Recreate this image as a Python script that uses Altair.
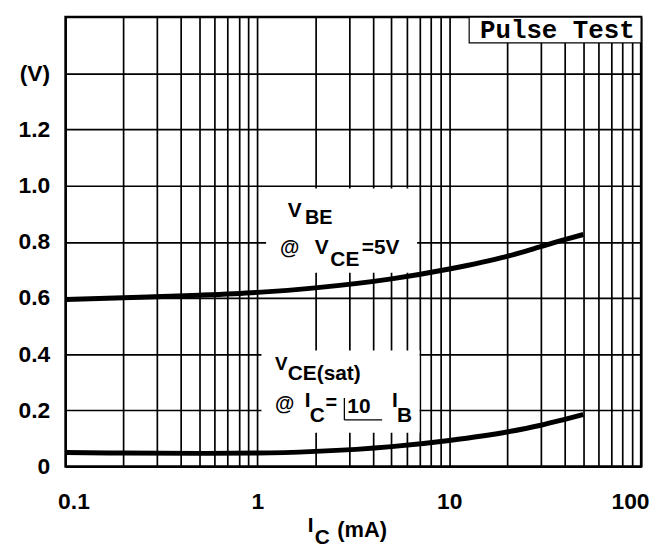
import altair as alt
import pandas as pd

# ---- data ----
ic_ma = [0.1, 0.2, 0.5, 1, 2, 5, 10, 20, 30, 40, 50]
vbe_v = [0.595, 0.601, 0.610, 0.620, 0.636, 0.668, 0.703, 0.748, 0.783, 0.808, 0.826]
vcesat_v = [0.050, 0.048, 0.047, 0.048, 0.054, 0.071, 0.093, 0.123, 0.147, 0.168, 0.185]

x_ticks = [0.1, 0.2, 0.3, 0.4, 0.5, 0.6, 0.7, 0.8, 0.9,
           1, 2, 3, 4, 5, 6, 7, 8, 9,
           10, 20, 30, 40, 50, 60, 70, 80, 90, 100]
y_ticks = [0, 0.2, 0.4, 0.6, 0.8, 1.0, 1.2, 1.4]

# white label boxes (mA, V)
box_x0 = [1.11, 1.05]
box_x1 = [6.8, 7.0]
box_y0 = [0.69, 0.12]
box_y1 = [0.99, 0.413]

# "Pulse Test" box
pulse_x0 = [12.7]
pulse_x1 = [100]
pulse_y0 = [1.508]
pulse_y1 = [1.6]

# annotation texts (left aligned, alphabetic baseline)
ann_text = ["V", "BE", "@", "V", "CE", "=5V",
            "V", "CE(sat)", "@", "I", "C", "=", "10", "I", "B"]
ann_x = [1.44, 1.77, 1.31, 1.99, 2.40, 3.50,
         1.235, 1.44, 1.235, 1.765, 1.873, 2.265, 2.944, 5.03, 5.34]
ann_y = [0.890, 0.862, 0.757, 0.757, 0.715, 0.757,
         0.343, 0.307, 0.201, 0.212, 0.159, 0.205, 0.190, 0.212, 0.159]
ann_fs = [21, 20, 20, 21, 21, 21,
          19, 21, 20, 21, 21, 20, 21, 21, 21]

# bracket around "10"
br_x0 = [2.84, 2.84]
br_x1 = [4.47, 2.84]
br_y0 = [0.166, 0.166]
br_y1 = [0.166, 0.244]

# x-axis title pieces
title_text = ["I", "C", "(mA)"]
title_x = [1.83, 1.99, 2.61]
title_ypx = [519, 531, 524]
title_fs = [21, 21, 22]

FONT = "Liberation Sans"

xscale = alt.Scale(type="log", domain=[0.1, 100], nice=False)
yscale = alt.Scale(domain=[0, 1.6], nice=False, zero=False)

xaxis = alt.Axis(
    values=x_ticks,
    labelExpr="(datum.value == 0.1 || datum.value == 1 || datum.value == 10 || datum.value == 100) ? ('' + datum.value) : ''",
    grid=True, gridColor="black", gridWidth=1.7, gridOpacity=1,
    ticks=False, tickSize=0, domain=False,
    labelFont=FONT, labelFontWeight="bold", labelFontSize=23, labelColor="black",
    labelPadding=24, labelFlush=True, labelFlushOffset=8, labelOverlap=False,
    title=None,
)
yaxis = alt.Axis(
    values=y_ticks,
    labelExpr="datum.value == 0 ? '0' : (abs(datum.value - 1.4) < 0.001 ? '(V)' : format(datum.value, '.1f'))",
    grid=True, gridColor="black", gridWidth=1.7, gridOpacity=1,
    ticks=False, tickSize=0, domain=False,
    labelFont=FONT, labelFontWeight="bold", labelFontSize=23, labelColor="black",
    labelPadding=16, labelOverlap=False,
    title=None,
)


def X(field):
    return alt.X(field, scale=xscale, axis=xaxis)


def Y(field):
    return alt.Y(field, scale=yscale, axis=yaxis)


curves = pd.DataFrame({
    "ic": ic_ma + ic_ma,
    "v": vbe_v + vcesat_v,
    "series": ["VBE"] * len(ic_ma) + ["VCEsat"] * len(ic_ma),
})

boxes = alt.Chart(pd.DataFrame({
    "x0": box_x0, "x1": box_x1, "y0": box_y0, "y1": box_y1,
})).mark_rect(fill="white").encode(
    x=X("x0:Q"), x2="x1:Q",
    y=Y("y0:Q"), y2="y1:Q",
)

lines = alt.Chart(curves).mark_line(
    color="black", strokeWidth=5, interpolate="monotone", strokeCap="butt"
).encode(
    x=X("ic:Q"),
    y=Y("v:Q"),
    detail="series:N",
)

pulse_box = alt.Chart(pd.DataFrame({
    "x0": pulse_x0, "x1": pulse_x1, "y0": pulse_y0, "y1": pulse_y1,
})).mark_rect(fill="white", stroke="black", strokeWidth=1.2).encode(
    x=X("x0:Q"), x2="x1:Q",
    y=Y("y0:Q"), y2="y1:Q",
)

pulse_text = alt.Chart(pd.DataFrame({"x": [36.6], "y": [1.526], "t": ["Pulse Test"]})).mark_text(
    font="Liberation Mono", fontWeight="bold", fontSize=26, align="center",
    baseline="alphabetic", color="black",
).encode(
    x=X("x:Q"),
    y=Y("y:Q"),
    text="t:N",
)

ann = alt.Chart(pd.DataFrame({
    "x": ann_x, "y": ann_y, "t": ann_text, "fs": ann_fs,
})).mark_text(
    font=FONT, fontWeight="bold", align="left", baseline="alphabetic", color="black",
).encode(
    x=X("x:Q"),
    y=Y("y:Q"),
    text="t:N",
    size=alt.Size("fs:Q", scale=None, legend=None),
)

bracket = alt.Chart(pd.DataFrame({
    "x0": br_x0, "x1": br_x1, "y0": br_y0, "y1": br_y1,
})).mark_rule(color="black", strokeWidth=1.3).encode(
    x=X("x0:Q"), x2="x1:Q",
    y=Y("y0:Q"), y2="y1:Q",
)

title_layers = []
for t, xv, ypx, fs in zip(title_text, title_x, title_ypx, title_fs):
    title_layers.append(
        alt.Chart(pd.DataFrame({"x": [xv], "t": [t]})).mark_text(
            font=FONT, fontWeight="bold", fontSize=fs, align="left",
            baseline="alphabetic", color="black",
        ).encode(
            x=X("x:Q"),
            y=alt.value(ypx),
            text="t:N",
        )
    )

chart = alt.layer(
    boxes, lines, pulse_box, pulse_text, ann, bracket, *title_layers
).properties(
    width=580, height=453,
    padding={"left": 10, "top": 6, "right": 5, "bottom": 5},
).configure_view(
    stroke="black", strokeWidth=2.5
)

chart.save("out.html", embed_options={"renderer": "svg", "actions": False})
